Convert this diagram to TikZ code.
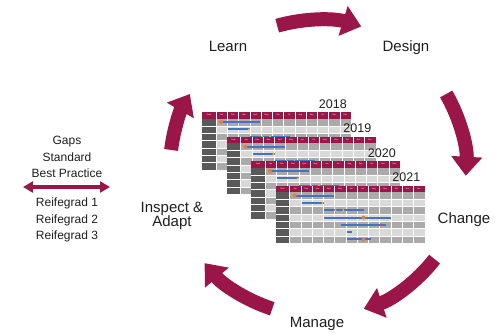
\documentclass[tikz,border=0pt]{standalone}
\usepackage{fontspec}
\setmainfont{Liberation Sans}
\usetikzlibrary{arrows.meta,calc}
\definecolor{crim}{RGB}{155,22,72}
\definecolor{gdark}{RGB}{89,89,89}
\definecolor{gmid}{RGB}{170,170,170}
\definecolor{glight}{RGB}{217,217,217}
\definecolor{gbar}{RGB}{68,114,196}
\definecolor{gorange}{RGB}{237,125,49}
\definecolor{gyellow}{RGB}{255,192,0}
\definecolor{gmag}{RGB}{200,60,160}
\definecolor{txt}{RGB}{30,30,30}
\newcommand\ganttsheet[3]{%
\begin{scope}[shift={(#1,#2)}]
 \fill[crim] (0,0) rectangle (149,-6.5);
 \foreach \i/\c in {0/gmid,1/glight,2/gmid,3/glight,4/gmid,5/glight,6/gmid}
   \fill[\c] (14,{-6.5-7.3*\i}) rectangle (149,{-6.5-7.3*(\i+1)});
 \fill[gdark] (0,-6.5) rectangle (14,-57.6);
 \foreach \k in {0,...,11}
   \draw[white,line width=0.4pt] ({14+11.25*\k},0) -- ({14+11.25*\k},-57.6);
 \foreach \i in {1,...,6}
   \draw[white,line width=0.3pt] (0,{-6.5-7.3*\i}) -- (149,{-6.5-7.3*\i});
 \node[hdr] (t#3) at (7,-3.25) {Task};
 \foreach \m [count=\k from 0] in {Jan,Feb,Mar,April,May,Jun,Jul,Aug,Sep,Oct,Nov,Dec}
   \node[hdr] (m#3-\k) at ({14+11.25*\k+5.625},-3.25) {\m};
 \foreach \r/\a/\b in {0/20/58,1/26/48,2/48/88,3/48/115,4/65/110,5/71/76,6/71/95}
   \fill[gbar] (\a,{-10.15-7.3*\r-1}) rectangle (\b,{-10.15-7.3*\r+1});
 \foreach \r/\a in {1/47,2/60,2/68}
   \fill[gyellow] (\a,{-10.15-7.3*\r}) circle (1.2);
 \foreach \r/\a in {0/19,3/88,6/88}
   \fill[gorange] (\a,{-10.15-7.3*\r}) circle (2);
 \fill[gmag] (105,{-10.15-7.3*4}) circle (1.6);
\end{scope}
\node[yr] (y#3) at (#1+145,#2+4) {#3};
}
\begin{document}
\begin{tikzpicture}[x=1pt,y=1pt,
 cyc/.style={line width=14pt, crim, -{Triangle[width=30pt,length=19pt]}},
 lbl/.style={font=\fontsize{15}{17}\selectfont, text=txt, anchor=base},
 side/.style={font=\fontsize{12}{16.5}\selectfont, align=center, text=txt},
 yr/.style={font=\fontsize{12.5}{14}\selectfont, anchor=base east, inner sep=0pt, text=txt},
 hdr/.style={font=\fontsize{2}{2}\selectfont, text=white, inner sep=0pt},
]
\useasboundingbox (0,0) rectangle (504,333);
\coordinate (C) at (318,165);
\draw[cyc] ($(C)+(106:148)$) arc[start angle=106,end angle=73,radius=148];
\draw[cyc] ($(C)+(30:148)$) arc[start angle=30,end angle=-3,radius=148];
\draw[cyc] ($(C)+(-38:148)$) arc[start angle=-38,end angle=-72,radius=148];
\draw[cyc] ($(C)+(-108:148)$) arc[start angle=-108,end angle=-140,radius=148];
\draw[cyc] ($(C)+(173:148)$) arc[start angle=173,end angle=150,radius=148];

\node[lbl] (learn) at (228,281) {Learn};
\node[lbl] (design) at (406,281) {Design};
\node[lbl] (change) at (464,110) {Change};
\node[lbl] (manage) at (317,6) {Manage};
\node[font=\fontsize{15}{14}\selectfont, align=center, text=txt] (inspect) at (172,117) {Inspect \&\\Adapt};

\node[side] (gaps) at (67,176) {Gaps\\Standard\\Best Practice};
\node[side] (reife) at (67,113) {Reifegrad 1\\Reifegrad 2\\Reifegrad 3};
\coordinate (la) at (23,146);
\coordinate (ra) at (110,146);
\draw[crim, line width=3.5pt, {Triangle[width=11pt,length=10pt]}-{Triangle[width=11pt,length=10pt]}] (la) -- (ra);

\ganttsheet{202}{221}{2018}
\ganttsheet{226.5}{196.5}{2019}
\ganttsheet{251}{172}{2020}
\ganttsheet{275.5}{147.5}{2021}
\end{tikzpicture}
\end{document}
